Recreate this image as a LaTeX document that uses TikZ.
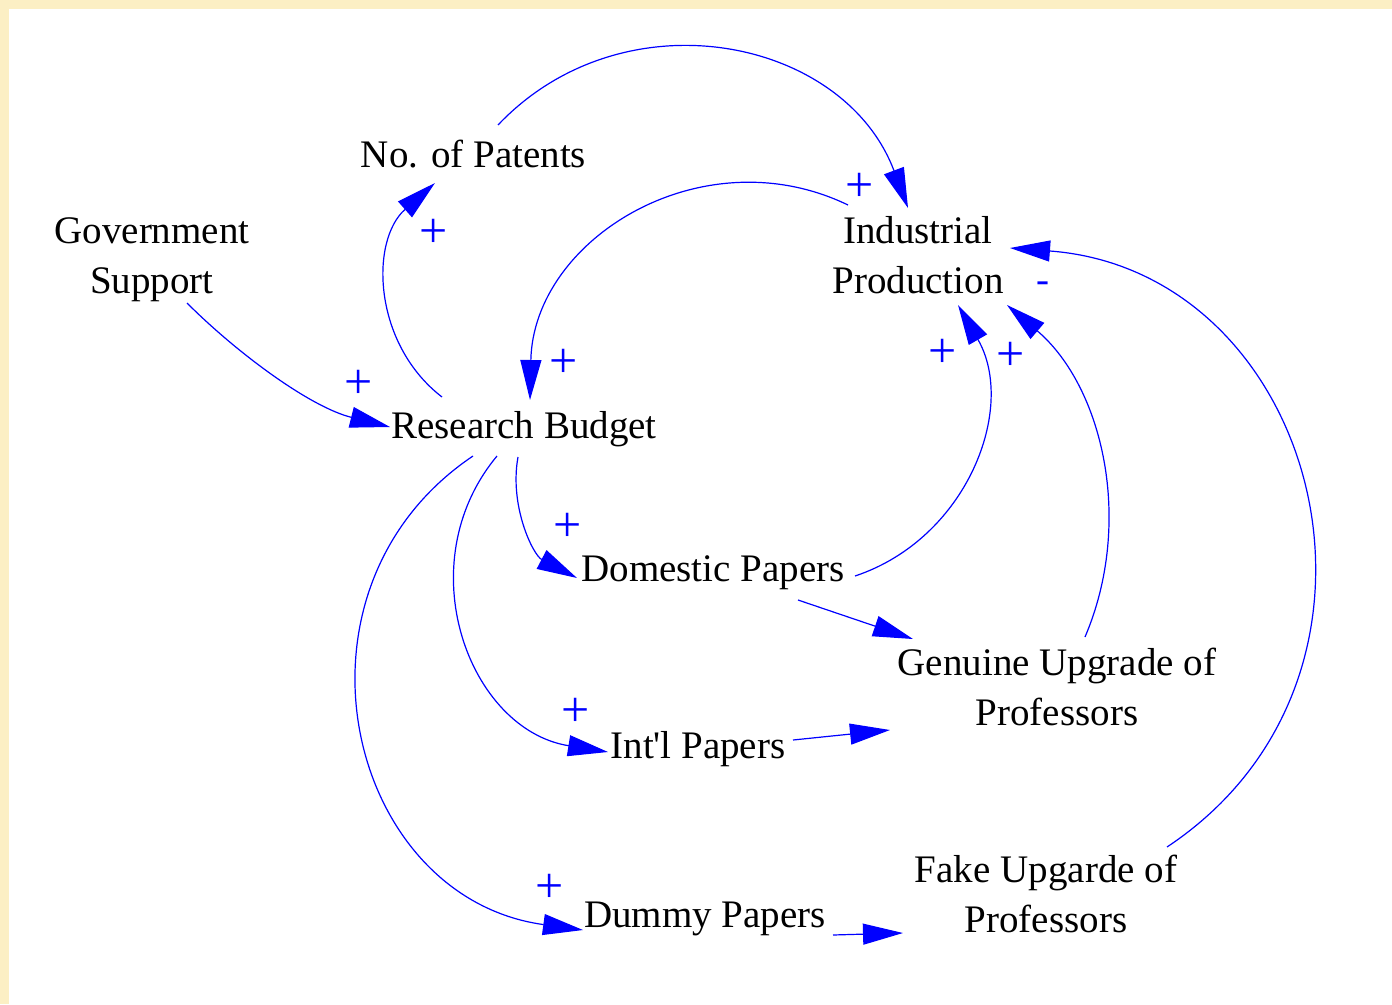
\documentclass[tikz,border=0pt]{standalone}
\usepackage{fontspec}
\setmainfont{Liberation Serif}
\usetikzlibrary{arrows.meta,calc}
\definecolor{framecol}{RGB}{252,239,196}
\definecolor{linkblue}{RGB}{0,0,255}
\tikzset{
  lbl/.style={font=\fontsize{39}{50}\selectfont, align=center, inner sep=0pt, text=black},
  pol/.style={font=\fontsize{50}{54}\selectfont, inner sep=0pt, text=linkblue},
  lnk/.style={draw=linkblue, line width=1.2pt, -{Triangle[length=40pt,width=21pt]}}
}
\begin{document}
\begin{tikzpicture}[x=1pt,y=-1pt]
\useasboundingbox (0,0) rectangle (1392,1004);
\fill[framecol] (0,0) rectangle (1392,1004);
\fill[white] (9,9) rectangle (1392,1004);

% variables
\node[lbl] (pat) at (473.5,153.7) {No. of Patents};
\node[lbl] (gov) at (152,260) {Government\\Support};
\node[lbl] (ind) at (918,255) {Industrial\\Production};
\node[lbl] (rb) at (524,429) {Research Budget};
\node[lbl] (dom) at (713,573) {Domestic Papers};
\node[lbl] (gen) at (1057,687) {Genuine Upgrade of\\Professors};
\node[lbl] (intl) at (698,749) {Int\textquotesingle l Papers};
\node[lbl] (dum) at (705,919) {Dummy Papers};
\node[lbl] (fake) at (1046,894) {Fake Upgarde of\\Professors};

% causal links
\draw[lnk] ($(pat)+(24.5,-28.7)$) .. controls +(125.6,-132.3) and +(-64.2,-170.8) .. ($(ind)+(-10,-47)$);
\draw[lnk] ($(ind)+(-70,-50)$) .. controls +(-145.4,-70.3) and +(3.4,-161.5) .. ($(rb)+(6,-29)$);
\draw[lnk] ($(gov)+(35,43)$) .. controls +(50,50) and +(-80,-20) .. ($(rb)+(-134,-2)$);
\draw[lnk] ($(rb)+(-82,-32)$) .. controls +(-69.1,-53.2) and +(-65.4,57.6) .. ($(pat)+(-38.5,29.3)$);
\draw[lnk] ($(rb)+(-6,28)$) .. controls +(-8.9,48.9) and +(-44,-23) .. ($(dom)+(-136,5)$);
\draw[lnk] ($(rb)+(-27,27)$) .. controls +(-90,108.3) and +(-139,-22.2) .. ($(intl)+(-90,3)$);
\draw[lnk] ($(rb)+(-51,27)$) .. controls +(-198.7,133.6) and +(-237.2,-32.6) .. ($(dum)+(-122,11)$);
\draw[lnk] ($(dom)+(142,3)$) .. controls +(112.4,-37.4) and +(59.2,102.5) .. ($(ind)+(40,50)$);
\draw[lnk] ($(gen)+(28,-50)$) .. controls +(49.3,-115.7) and +(95.6,81.6) .. ($(ind)+(89,50)$);
\draw[lnk] ($(fake)+(121,-47)$) .. controls +(259.3,-172.2) and +(310.4,23.3) .. ($(ind)+(92,-7)$);
\draw[lnk] ($(dom)+(85,27)$) -- ($(gen)+(-144,-48)$);
\draw[lnk] ($(intl)+(95,-9)$) -- ($(gen)+(-167,43)$);
\draw[lnk] ($(dum)+(128,16)$) -- ($(fake)+(-143,39)$);

% polarities
\node[pol] (p1) at (860,187) {+};
\node[pol] (p2) at (434,233) {+};
\node[pol] (p3) at (564,363) {+};
\node[pol] (p4) at (359,384) {+};
\node[pol] (p5) at (568,527) {+};
\node[pol] (p6) at (576,712) {+};
\node[pol] (p7) at (550,888) {+};
\node[pol] (p8) at (943,353) {+};
\node[pol] (p9) at (1011,356) {+};
\node[pol, font=\fontsize{39}{44}\selectfont] (m1) at (1043,287) {-};
\end{tikzpicture}
\end{document}
